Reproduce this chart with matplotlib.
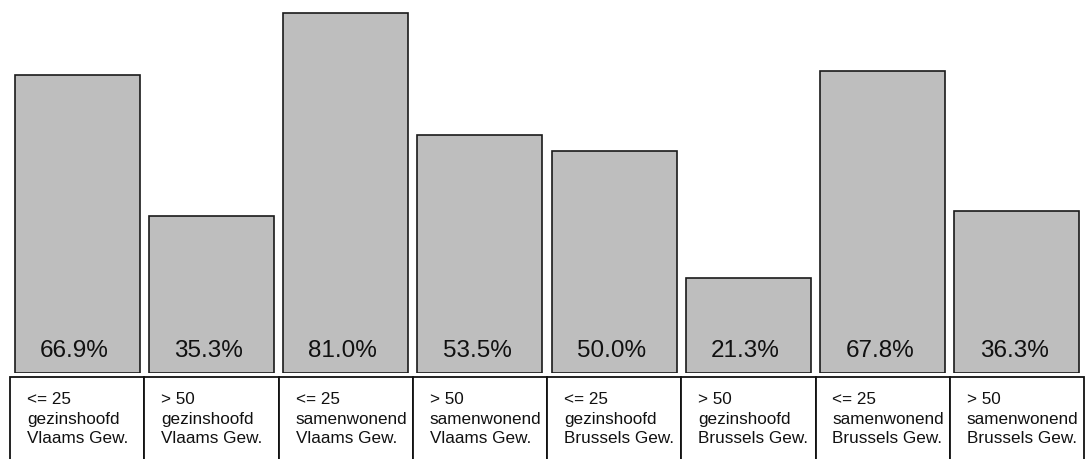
import matplotlib
matplotlib.use('Agg')
import matplotlib.pyplot as plt
from matplotlib.patches import Rectangle

plt.rcParams['font.family'] = ['Liberation Sans', 'DejaVu Sans']

leeftijd = ['<= 25', '> 50', '<= 25', '> 50', '<= 25', '> 50', '<= 25', '> 50']
type_hh = ['gezinshoofd', 'gezinshoofd', 'samenwonend', 'samenwonend',
           'gezinshoofd', 'gezinshoofd', 'samenwonend', 'samenwonend']
gewest = ['Vlaams Gew.', 'Vlaams Gew.', 'Vlaams Gew.', 'Vlaams Gew.',
          'Brussels Gew.', 'Brussels Gew.', 'Brussels Gew.', 'Brussels Gew.']
pct = [66.9, 35.3, 81.0, 53.5, 50.0, 21.3, 67.8, 36.3]

W, H = 1086, 459
fig = plt.figure(figsize=(W / 100, H / 100), dpi=100)

# layout in pixels
left, right = 10, 1084
base = 373
px_per_pct = 4.45

ax = fig.add_axes([left / W, 1 - base / H, (right - left) / W, base / H])
ax.set_xlim(-0.5, 7.5)
ax.set_ylim(0, base / px_per_pct)
ax.axis('off')

x = list(range(len(pct)))
ax.bar(x, pct, width=0.931, color='#bebebe', edgecolor='#1a1a1a', linewidth=1.2)
for i, v in enumerate(pct):
    ax.annotate('%.1f%%' % v, (i, 0), xytext=(-2, 11.5), textcoords='offset points',
                ha='center', va='baseline', fontsize=17.5, color='#111111')

# label boxes under the bars (run past the bottom edge)
tab_top = 377
tab = fig.add_axes([left / W, -20 / H, (right - left) / W, (H - tab_top + 20) / H])
tab.set_xlim(-0.5, 7.5)
tab.set_ylim(0, 1)
tab.axis('off')
for i in range(len(pct)):
    tab.add_patch(Rectangle((i - 0.5, 0), 1, 1, facecolor='white',
                            edgecolor='#111111', linewidth=1.3, clip_on=False))

pitch = (right - left) / len(pct)
for i in range(len(pct)):
    tx = (left + i * pitch + 17) / W
    for line, yb in zip([leeftijd[i], type_hh[i], gewest[i]], [404, 424, 443]):
        fig.text(tx, 1 - yb / H, line, ha='left', va='baseline',
                 fontsize=12.3, color='#111111')

fig.savefig('out.png', dpi=100)
